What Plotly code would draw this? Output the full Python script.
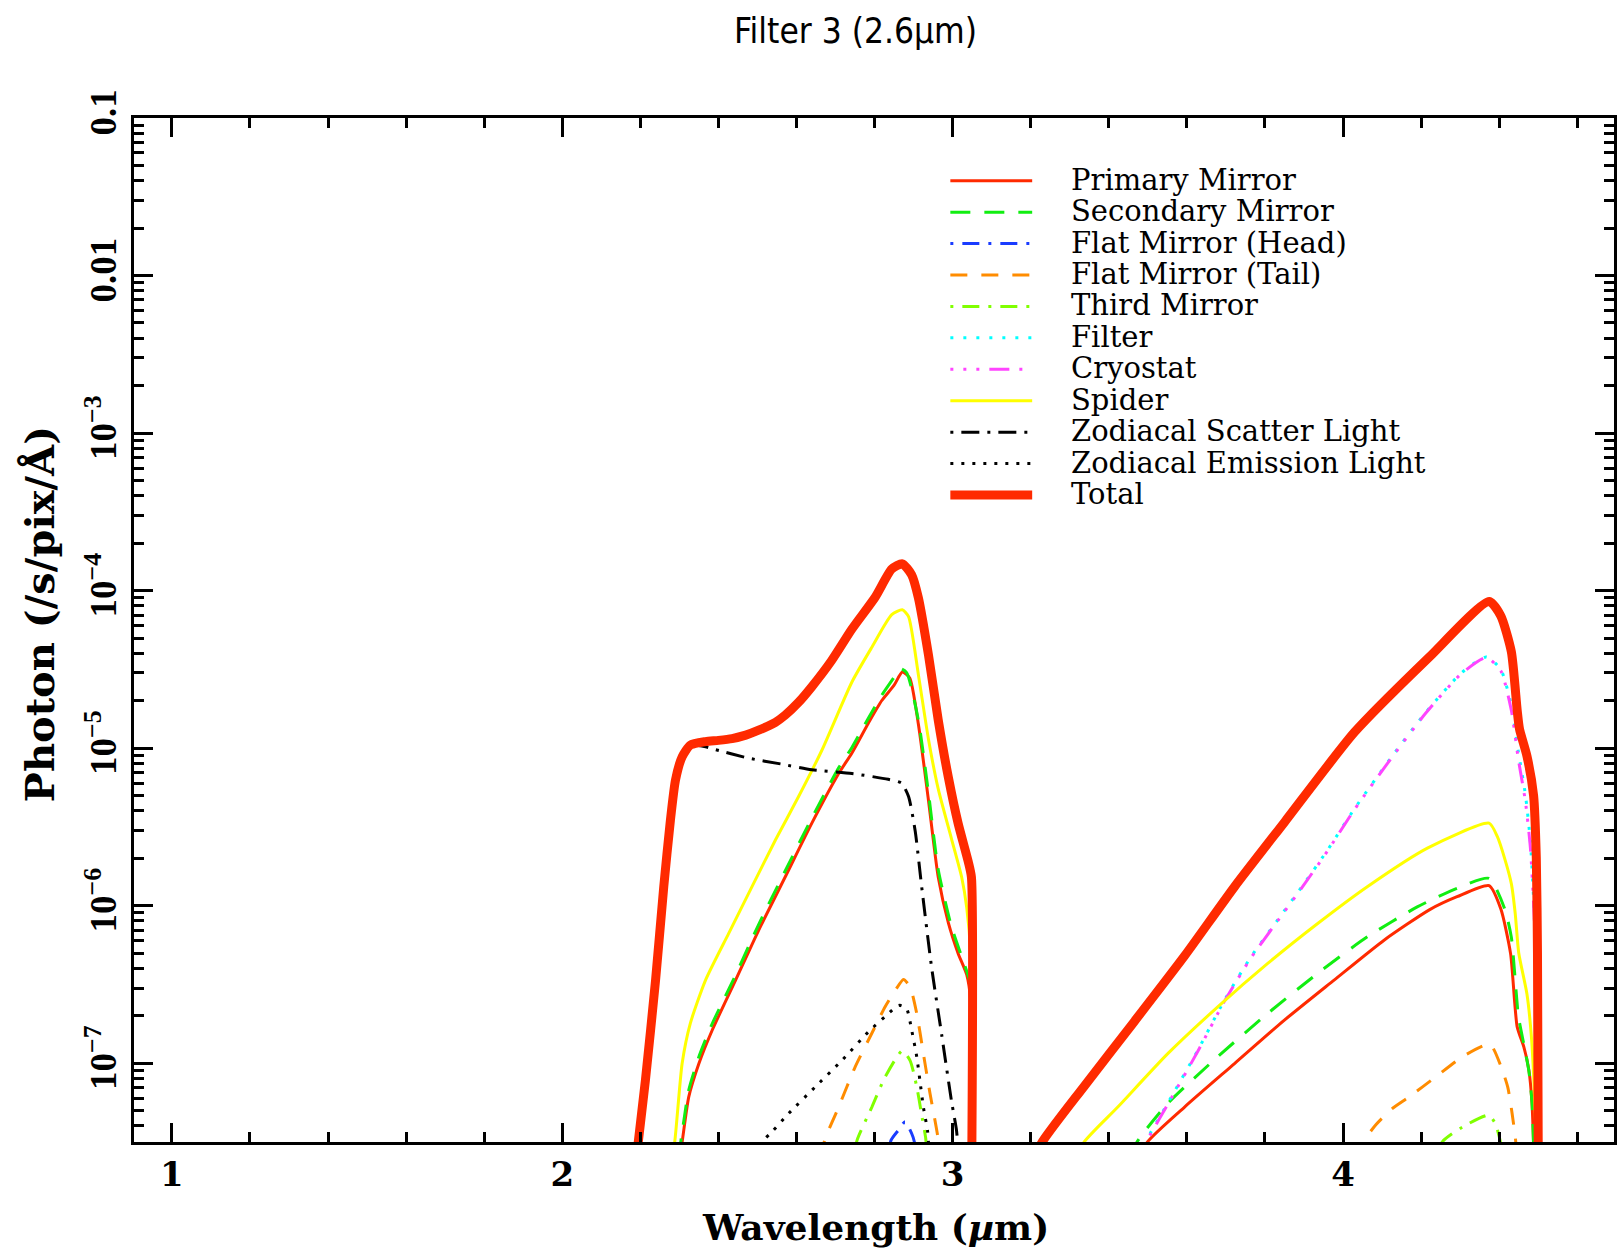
import plotly.graph_objects as go

# ---------------------------------------------------------------------------
# Photon rate (/s/pix/Å) versus wavelength (µm) for each background component.
# None separates the two pass-bands of the filter.
# ---------------------------------------------------------------------------

primary_wl = [2.300, 2.307, 2.324, 2.350, 2.384, 2.444, 2.503, 2.571, 2.639, 2.708, 2.742, 2.784,
              2.818, 2.850, 2.871, 2.890, 2.912, 2.938, 2.963, 2.989, 3.014, 3.036, 3.046, 3.049, None,
              3.488, 3.496, 3.594, 3.722, 3.849, 3.977, 4.105, 4.222, 4.292, 4.374, 4.404, 4.429,
              4.446, 4.463, 4.476, 4.484, 4.489]
primary = [2.51e-8, 3.16e-8, 6.11e-8, 9.95e-8, 1.62e-7, 3.37e-7, 6.98e-7, 1.52e-6, 3.33e-6, 6.90e-6,
           9.33e-6, 1.44e-5, 2.00e-5, 2.51e-5, 3.04e-5, 2.79e-5, 1.43e-5, 4.67e-6, 1.52e-6, 7.78e-7,
           4.98e-7, 3.65e-7, 2.51e-7, 2.51e-8, None,
           2.51e-8, 3.09e-8, 5.27e-8, 9.95e-8, 1.87e-7, 3.37e-7, 6.04e-7, 9.44e-7, 1.14e-6, 1.34e-6,
           9.55e-7, 4.98e-7, 1.70e-7, 1.27e-7, 9.04e-8, 5.55e-8, 2.51e-8]

secondary_wl = [2.292, 2.300, 2.307, 2.324, 2.350, 2.384, 2.444, 2.503, 2.571, 2.639, 2.708, 2.742,
                2.784, 2.818, 2.850, 2.865, 2.882, 2.912, 2.938, 2.963, 2.997, 3.027, 3.046, 3.049, None,
                3.462, 3.470, 3.551, 3.679, 3.807, 3.935, 4.062, 4.190, 4.292, 4.374, 4.414, 4.431,
                4.449, 4.463, 4.476, 4.484, 4.489]
secondary = [2.51e-8, 2.82e-8, 3.63e-8, 6.76e-8, 1.10e-7, 1.78e-7, 3.63e-7, 7.59e-7, 1.66e-6, 3.59e-6,
             7.50e-6, 1.01e-5, 1.55e-5, 2.16e-5, 2.82e-5, 3.20e-5, 3.02e-5, 1.51e-5, 5.21e-6, 1.70e-6,
             7.36e-7, 4.45e-7, 3.16e-7, 2.51e-8, None,
             2.51e-8, 3.09e-8, 5.55e-8, 1.10e-7, 2.07e-7, 3.72e-7, 6.34e-7, 9.82e-7, 1.29e-6, 1.49e-6,
             9.55e-7, 6.30e-7, 2.00e-7, 1.32e-7, 8.91e-8, 5.62e-8, 2.51e-8]

flat_head_wl = [2.836, 2.842, 2.861, 2.878, 2.895, 2.902, 2.905]
flat_head = [2.51e-8, 3.24e-8, 3.76e-8, 4.25e-8, 3.58e-8, 3.16e-8, 2.51e-8]

flat_tail_wl = [2.665, 2.672, 2.708, 2.750, 2.793, 2.827, 2.853, 2.874, 2.891, 2.908, 2.925, 2.942,
                2.962, 2.966, None,
                4.030, 4.045, 4.084, 4.125, 4.169, 4.237, 4.306, 4.376, 4.404, 4.422, 4.433, 4.442, 4.445]
flat_tail = [2.51e-8, 3.24e-8, 5.27e-8, 9.46e-8, 1.55e-7, 2.28e-7, 2.90e-7, 3.40e-7, 3.05e-7, 2.07e-7,
             1.15e-7, 6.43e-8, 3.40e-8, 2.51e-8, None,
             2.51e-8, 3.02e-8, 4.07e-8, 5.13e-8, 6.11e-8, 8.18e-8, 1.10e-7, 1.32e-7, 9.62e-8, 7.03e-8,
             4.80e-8, 3.24e-8, 2.51e-8]

third_wl = [2.748, 2.755, 2.793, 2.827, 2.871, 2.891, 2.908, 2.920, 2.931, 2.934, None,
            4.245, 4.254, 4.306, 4.373, 4.390, 4.403, 4.406]
third = [2.51e-8, 3.24e-8, 5.27e-8, 8.18e-8, 1.20e-7, 1.04e-7, 7.08e-8, 4.80e-8, 3.33e-8, 2.51e-8, None,
         2.51e-8, 3.16e-8, 3.94e-8, 4.68e-8, 4.14e-8, 3.16e-8, 2.51e-8]

filter_wl = [3.480, 3.492, 3.560, 3.628, 3.696, 3.764, 3.832, 3.900, 3.960, 4.029, 4.121, 4.212,
             4.303, 4.367, 4.404, 4.431, 4.449, 4.467, 4.480, 4.492, 4.497]
filter_em = [2.51e-8, 3.09e-8, 6.11e-8, 1.21e-7, 2.51e-7, 4.73e-7, 8.09e-7, 1.38e-6, 2.25e-6, 4.12e-6,
             8.57e-6, 1.69e-5, 3.00e-5, 3.79e-5, 3.16e-5, 1.87e-5, 9.51e-6, 5.08e-6, 2.51e-6, 6.31e-7,
             2.51e-8]

cryostat_wl = [3.480, 3.492, 3.560, 3.628, 3.696, 3.764, 3.832, 3.900, 3.960, 4.029, 4.121, 4.212,
               4.303, 4.367, 4.404, 4.431, 4.449, 4.467, 4.480, 4.492, 4.497]
cryostat = [2.45e-8, 3.02e-8, 6.00e-8, 1.19e-7, 2.47e-7, 4.66e-7, 7.98e-7, 1.36e-6, 2.22e-6, 4.07e-6,
            8.47e-6, 1.67e-5, 2.97e-5, 3.76e-5, 3.10e-5, 1.74e-5, 8.50e-6, 4.60e-6, 2.30e-6, 6.00e-7,
            2.45e-8]

spider_wl = [2.280, 2.288, 2.307, 2.328, 2.367, 2.426, 2.486, 2.546, 2.605, 2.665, 2.742, 2.793,
             2.844, 2.871, 2.887, 2.912, 2.938, 2.963, 2.997, 3.023, 3.036, 3.046, 3.049, None,
             3.325, 3.334, 3.423, 3.551, 3.679, 3.807, 3.935, 4.062, 4.216, 4.374, 4.395, 4.414,
             4.431, 4.441, 4.450, 4.471, 4.483, 4.492, 4.496]
spider = [2.51e-8, 3.16e-8, 9.95e-8, 1.79e-7, 3.37e-7, 6.65e-7, 1.32e-6, 2.61e-6, 4.91e-6, 9.70e-6,
          2.63e-5, 4.37e-5, 7.03e-5, 7.55e-5, 6.84e-5, 2.95e-5, 1.14e-5, 5.51e-6, 2.66e-6, 1.52e-6,
          9.73e-7, 5.01e-7, 2.51e-8, None,
          2.51e-8, 3.09e-8, 5.27e-8, 1.15e-7, 2.28e-7, 4.30e-7, 7.71e-7, 1.32e-6, 2.32e-6, 3.34e-6,
          2.75e-6, 1.99e-6, 1.38e-6, 8.91e-7, 5.01e-7, 2.75e-7, 1.41e-7, 5.01e-8, 2.51e-8]

zodi_scatter_wl = [2.190, 2.213, 2.239, 2.260, 2.277, 2.290, 2.307, 2.328, 2.367, 2.384, 2.478, 2.560,
                   2.639, 2.742, 2.835, 2.869, 2.887, 2.904, 2.920, 2.946, 2.972, 2.997, 3.010, 3.015]
zodi_scatter = [2.51e-8, 7.80e-8, 3.37e-7, 1.32e-6, 3.49e-6, 6.27e-6, 8.81e-6, 1.035e-5, 1.02e-5,
                9.91e-6, 8.63e-6, 7.94e-6, 7.29e-6, 6.90e-6, 6.34e-6, 6.00e-6, 4.93e-6, 2.98e-6,
                1.36e-6, 4.07e-7, 1.51e-7, 5.75e-8, 3.72e-8, 2.51e-8]

zodi_emission_wl = [2.505, 2.516, 2.537, 2.580, 2.648, 2.716, 2.784, 2.831, 2.857, 2.865, 2.882,
                    2.895, 2.908, 2.916, 2.925, 2.936, 2.940]
zodi_emission = [2.51e-8, 3.24e-8, 3.66e-8, 4.80e-8, 7.08e-8, 1.04e-7, 1.58e-7, 2.02e-7, 2.30e-7,
                 2.33e-7, 2.22e-7, 1.62e-7, 1.10e-7, 7.80e-8, 5.27e-8, 3.66e-8, 2.51e-8]

total_wl = [2.190, 2.213, 2.239, 2.260, 2.277, 2.290, 2.307, 2.328, 2.367, 2.400, 2.435, 2.470, 2.503,
            2.546, 2.571, 2.605, 2.639, 2.690, 2.742, 2.801, 2.844, 2.871, 2.895, 2.912, 2.938, 2.963,
            2.989, 3.014, 3.040, 3.048, 3.049, None,
            3.215, 3.227, 3.338, 3.466, 3.594, 3.722, 3.850, 4.029, 4.221, 4.374, 4.404, 4.431, 4.446,
            4.452, 4.471, 4.488, 4.495, 4.498, 4.500]
total = [2.51e-8, 7.80e-8, 3.37e-7, 1.32e-6, 3.49e-6, 6.27e-6, 8.81e-6, 1.045e-5, 1.10e-5, 1.12e-5,
         1.15e-5, 1.21e-5, 1.30e-5, 1.46e-5, 1.62e-5, 1.95e-5, 2.45e-5, 3.60e-5, 5.70e-5, 9.04e-5,
         1.37e-4, 1.48e-4, 1.26e-4, 9.04e-5, 3.91e-5, 1.51e-5, 6.52e-6, 3.33e-6, 1.90e-6, 1.52e-6,
         2.51e-8, None,
         2.51e-8, 3.09e-8, 7.20e-8, 1.85e-7, 4.80e-7, 1.32e-6, 3.39e-6, 1.26e-5, 3.79e-5, 8.53e-5,
         6.92e-5, 4.10e-5, 1.74e-5, 1.32e-5, 8.91e-6, 5.01e-6, 2.00e-6, 5.01e-7, 2.51e-8]

y_tick_vals = [1e-7, 1e-6, 1e-5, 1e-4, 1e-3, 1e-2, 1e-1]
y_tick_text = ["10<sup>−7</sup>", "10<sup>−6</sup>", "10<sup>−5</sup>", "10<sup>−4</sup>",
               "10<sup>−3</sup>", "0.01", "0.1"]

# name, x, y, colour, dash pattern, width (drawing order = legend order)
series = [
    ("Primary Mirror", primary_wl, primary, "#ff2a00", "solid", 3),
    ("Secondary Mirror", secondary_wl, secondary, "#11ee11", "20px,14px", 3),
    ("Flat Mirror (Head)", flat_head_wl, flat_head, "#1a3cff", "3px,9px,17px,9px", 3),
    ("Flat Mirror (Tail)", flat_tail_wl, flat_tail, "#ff8c00", "17px,14px", 3),
    ("Third Mirror", third_wl, third, "#80ff00", "3px,9px,17px,9px", 3),
    ("Filter", filter_wl, filter_em, "#00ffff", "3px,10px", 3),
    ("Cryostat", cryostat_wl, cryostat, "#ff44ff", "3px,10px,3px,10px,3px,10px,20px,10px", 3),
    ("Spider", spider_wl, spider, "#ffff00", "solid", 3),
    ("Zodiacal Scatter Light", zodi_scatter_wl, zodi_scatter, "#000000", "3px,8px,18px,8px", 3),
    ("Zodiacal Emission Light", zodi_emission_wl, zodi_emission, "#000000", "3px,8px", 3),
    ("Total", total_wl, total, "#ff2a00", "solid", 9),
]

# ---------------------------------------------------------------------------
W, H = 1617, 1252
ML, MR, MT, MB = 134, 0, 118, 110
PW, PH = W - ML - MR, H - MT - MB


def paper_x(px):
    return (px - ML) / PW


def paper_y(py):
    return (H - MB - py) / PH


SERIF = "DejaVu Serif"
TIMES = "Liberation Serif"
NARROW = "Liberation Sans Narrow, DejaVu Sans Condensed, sans-serif"

fig = go.Figure()
for name, xs, ys, color, dash, width in series:
    fig.add_trace(go.Scatter(
        x=xs, y=ys, mode="lines", name=name, showlegend=False,
        line=dict(color=color, width=width, dash=dash, shape="spline", smoothing=0.6),
    ))

# Legend block: key samples on the left, labels on the right
shapes, annotations = [], []
row_y0, row_step = 180.7, 31.43
for i, (name, _, _, color, dash, width) in enumerate(series):
    y = paper_y(row_y0 + i * row_step)
    shapes.append(dict(type="line", xref="paper", yref="paper",
                       x0=paper_x(952), x1=paper_x(1034), y0=y, y1=y,
                       line=dict(color=color, width=width, dash=dash)))
    annotations.append(dict(text=name, xref="paper", yref="paper",
                            x=paper_x(1071), y=paper_y(row_y0 + i * row_step - 1),
                            xanchor="left", yanchor="middle", showarrow=False,
                            font=dict(family=SERIF, size=29, color="black")))

annotations += [
    dict(text="Filter 3 (2.6µm)", xref="paper", yref="paper",
         x=paper_x(857), y=paper_y(31), xanchor="center", yanchor="middle",
         showarrow=False, font=dict(family=NARROW, size=35, color="black")),
    dict(text="Wavelength (<i>µ</i>m)", xref="paper", yref="paper",
         x=paper_x(877), y=paper_y(1227), xanchor="center", yanchor="middle",
         showarrow=False, font=dict(family=SERIF, size=36, color="black", weight="bold")),
    dict(text="Photon (/s/pix/Å)", xref="paper", yref="paper",
         x=paper_x(39), y=paper_y(614), xanchor="center", yanchor="middle", textangle=-90,
         showarrow=False, font=dict(family=SERIF, size=40, color="black", weight="bold")),
]

axis_common = dict(
    showline=True, linewidth=3, linecolor="black", mirror="ticks",
    ticks="inside", ticklen=19, tickwidth=2.5, tickcolor="black",
    showgrid=False, zeroline=False,
)

fig.update_layout(
    width=W, height=H,
    margin=dict(l=ML, r=MR, t=MT, b=MB, pad=0),
    paper_bgcolor="white", plot_bgcolor="white",
    xaxis=dict(range=[0.903, 4.694], tickmode="linear", tick0=1, dtick=1,
               tickfont=dict(family=SERIF, size=34, color="black", weight="bold"),
               minor=dict(ticks="inside", ticklen=10, tickwidth=2.5, tickcolor="black",
                          tick0=1, dtick=0.2, showgrid=False),
               **axis_common),
    yaxis=dict(type="log", range=[-7.5, -1], tickmode="array",
               tickvals=y_tick_vals, ticktext=y_tick_text, tickangle=-90,
               tickfont=dict(family=TIMES, size=37, color="black", weight="bold"),
               minor=dict(ticks="inside", ticklen=10, tickwidth=2.5, tickcolor="black",
                          dtick="D1", showgrid=False),
               **axis_common),
    shapes=shapes, annotations=annotations,
    showlegend=False,
)

fig.write_html("out.html")
